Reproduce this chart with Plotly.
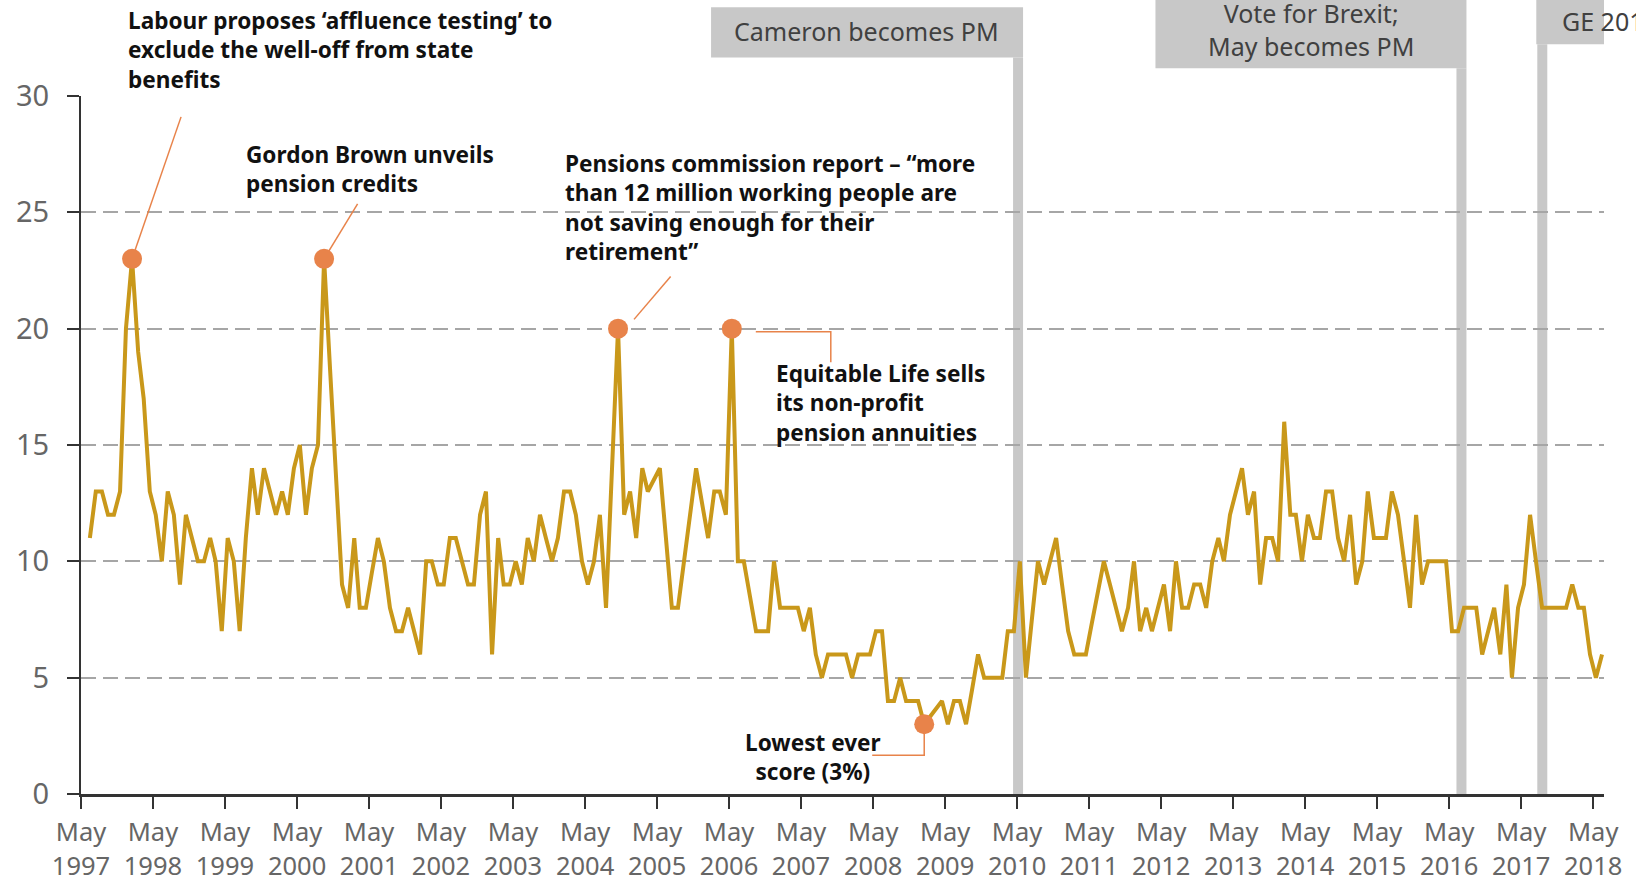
import pandas as pd
import plotly.graph_objects as go

# ---------------- data ----------------
values = [
    11, 13, 13, 12, 12, 13, 20, 23, 19, 17,
    13, 12, 10, 13, 12, 9, 12, 11, 10, 10,
    11, 10, 7, 11, 10, 7, 11, 14, 12, 14,
    13, 12, 13, 12, 14, 15, 12, 14, 15, 23,
    18.3, 13.7, 9, 8, 11, 8, 8, 9.5, 11, 10,
    8, 7, 7, 8, 7, 6, 10, 10, 9, 9,
    11, 11, 10, 9, 9, 12, 13, 6, 11, 9,
    9, 10, 9, 11, 10, 12, 11, 10, 11, 13,
    13, 12, 10, 9, 10, 12,
    8, 14, 20, 12, 13, 11, 14, 13, 13.5, 14,
    11, 8, 8, 10, 12, 14, 12.5, 11, 13, 13,
    12, 20, 10, 10, 8.5, 7, 7, 7, 10, 8,
    8, 8, 8, 7, 8, 6, 5, 6, 6, 6,
    6, 5, 6,
    6, 6, 7, 7, 4, 4, 5, 4, 4, 4,
    3, 3.33, 3.67, 4, 3, 4, 4, 3, 4.5, 6,
    5, 5, 5, 5, 7, 7, 10, 5, 7.5, 10,
    9, 10, 11, 9, 7, 6, 6, 6, 7.33, 8.67,
    10, 9, 8,
    7, 8, 10, 7, 8, 7, 8, 9, 7, 10,
    8, 8, 9, 9, 8, 10, 11, 10, 12, 13,
    14, 12, 13, 9, 11, 11, 10, 16, 12, 12,
    10, 12, 11, 11, 13, 13, 11, 10, 12, 9,
    10, 13, 11, 11,
    11, 13, 12, 10, 8, 12, 9, 10, 10, 10,
    10, 7, 7, 8, 8, 8, 6, 7, 8, 6,
    9, 5, 8, 9, 12, 10, 8, 8, 8, 8,
    8, 9, 8, 8, 6, 5, 6,
]
first_month = "1997-06-15"
dates = [(pd.Timestamp(first_month) + pd.DateOffset(months=i)).strftime("%Y-%m-%d")
         for i in range(len(values))]

highlight_idx = [7, 39, 88, 107, 139]
highlight_dates = [dates[i] for i in highlight_idx]
highlight_vals = [values[i] for i in highlight_idx]

tick_years = list(range(1997, 2019))
tick_vals = [f"{y}-05-01" for y in tick_years]
tick_text = [f"May<br>{y}" for y in tick_years]

event_dates = ["2010-05-06", "2016-07-02", "2017-08-16"]
event_labels = ["Cameron becomes PM", "Vote for Brexit;<br>May becomes PM", "GE 2017"]

labour_text = "Labour proposes ‘affluence testing’ to<br>exclude the well-off from state<br>benefits"
brown_text = "Gordon Brown unveils<br>pension credits"
pensions_text = ("Pensions commission report – “more<br>than 12 million working people are<br>"
                 "not saving enough for their<br>retirement”")
equitable_text = "Equitable Life sells<br>its non-profit<br>pension annuities"
lowest_text = "Lowest ever<br>score (3%)"

# ---------------- style ----------------
W, H = 1636, 881
L, R, T, B = 81, 32, 96, 87
PW, PH = W - L - R, H - T - B
GOLD = "#C9981A"
ORANGE = "#E8834A"
BOXGREY = "#C8C8C8"
FONT = "Noto Sans"


def px_x(px):
    return (px - L) / PW


def px_y(py):
    return (H - B - py) / PH


fig = go.Figure()
fig.add_trace(go.Scatter(x=dates, y=values, mode="lines",
                         line=dict(color=GOLD, width=4), hoverinfo="skip"))
fig.add_trace(go.Scatter(x=highlight_dates, y=highlight_vals, mode="markers",
                         marker=dict(color=ORANGE, size=20), hoverinfo="skip"))

# event bars and label boxes
box_specs = [
    # (box x0 px, box x1 px, box top px, box bottom px, text dx, text y px, anchor)
    (-307, 5, 7.3, 57.4, -152, 31.5, "center"),
    (-306, 5, 0, 68.3, -150, 29.0, "center"),
    (-6, 200, 0, 44.3, 18, 20.5, "left"),
]
for ed, lab, (bx0, bx1, by0, by1, tdx, ty, anc) in zip(event_dates, event_labels, box_specs):
    fig.add_shape(type="rect", xref="x", yref="paper", xsizemode="pixel", xanchor=ed,
                  x0=-5, x1=5, y0=0, y1=px_y(by1), fillcolor=BOXGREY, line_width=0,
                  layer="below")
    fig.add_shape(type="rect", xref="x", yref="paper", xsizemode="pixel", xanchor=ed,
                  x0=bx0, x1=bx1, y0=px_y(by1), y1=px_y(by0), fillcolor=BOXGREY,
                  line_width=0, layer="above")
    fig.add_annotation(text=lab, xref="x", yref="paper", x=ed, xshift=tdx, y=px_y(ty),
                       xanchor=anc, yanchor="middle", showarrow=False, align="center",
                       font=dict(family=FONT, size=25, color="#404040"))

# leader lines (pixel offsets from the highlighted data points)
leaders = [
    (7, "M 0,0 L 49,142"),
    (39, "M 0,0 L 33.5,55"),
    (88, "M 16,9.3 L 52.6,52.1"),
    (107, "M 24,-3.2 L 99,-3.2 L 99,-33.5"),
    (139, "M 0,0 L 0,-31 L -52,-31"),
]
for idx, path in leaders:
    fig.add_shape(type="path", xref="x", yref="y", xsizemode="pixel", ysizemode="pixel",
                  xanchor=dates[idx], yanchor=values[idx], path=path,
                  line=dict(color=ORANGE, width=1.5), layer="between")


def add_block(text, x_px, y_center, anchor="left", size=22.6):
    fig.add_annotation(text=f"<b>{text}</b>", xref="paper", yref="paper",
                       x=px_x(x_px), y=px_y(y_center), xanchor=anchor, yanchor="middle",
                       align=anchor, showarrow=False,
                       font=dict(family=FONT, size=size, color="#111111"))


add_block(labour_text, 126, 50)
add_block(brown_text, 244, 169)
add_block(pensions_text, 562.5, 207.5)
add_block(equitable_text, 773.5, 403)
add_block(lowest_text, 813, 756.5, anchor="center")

fig.update_layout(
    width=W, height=H,
    margin=dict(l=L, r=R, t=T, b=B, pad=0, autoexpand=False),
    paper_bgcolor="white", plot_bgcolor="white",
    showlegend=False,
    font=dict(family=FONT, color="#666666"),
)
fig.update_xaxes(
    range=["1997-05-01", "2018-06-25"],
    tickmode="array", tickvals=tick_vals, ticktext=tick_text,
    tickfont=dict(family=FONT, size=25.5, color="#666666"),
    showgrid=False, zeroline=False, automargin=False,
    showline=True, linecolor="#333333", linewidth=2.5,
    ticks="outside", ticklen=12, tickwidth=2, tickcolor="#333333",
    ticklabelstandoff=2,
)
fig.update_yaxes(
    range=[0, 30], tickvals=[0, 5, 10, 15, 20, 25, 30],
    tickfont=dict(family=FONT, size=29, color="#666666"),
    showgrid=True, gridcolor="#A6A6A6", gridwidth=2, griddash="15px,7px",
    zeroline=False, showline=True, linecolor="#333333", linewidth=2, automargin=False,
    ticks="outside", ticklen=12, tickwidth=2, tickcolor="#333333",
    ticklabelstandoff=12,
)

fig.write_html("out.html", config={"displayModeBar": False},
               post_script="document.body.style.margin='0';document.body.style.overflow='hidden';")
